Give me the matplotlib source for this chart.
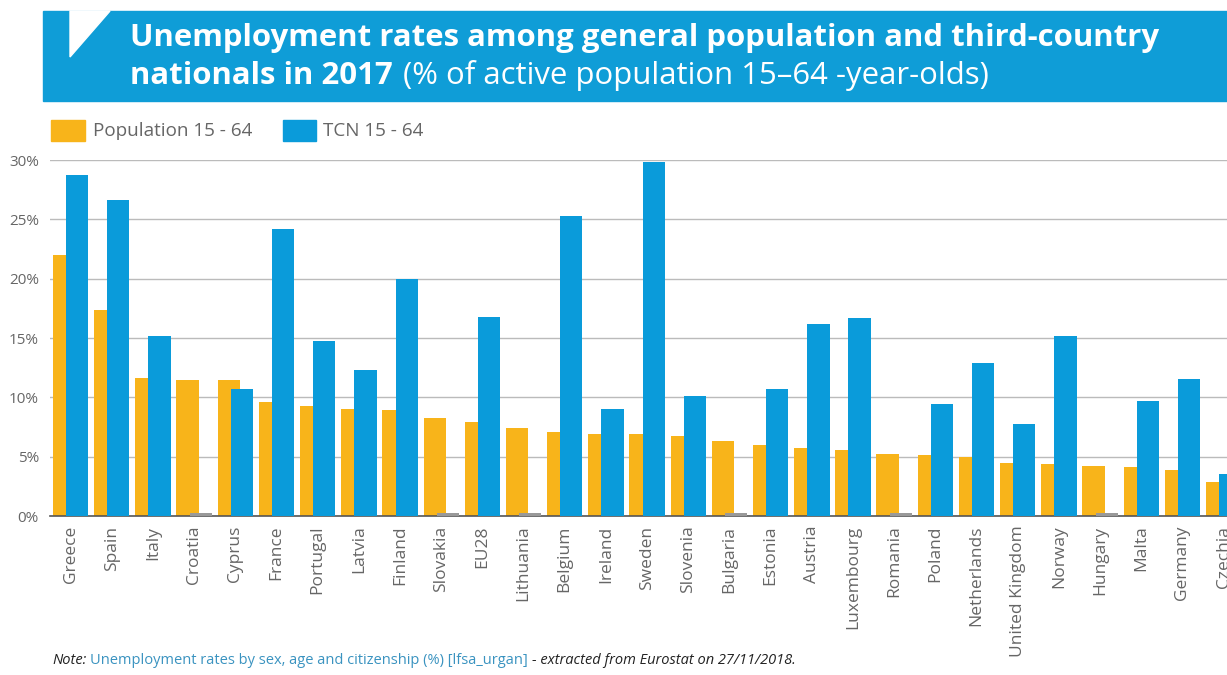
import numpy as np
import matplotlib
matplotlib.use("Agg")
import matplotlib.pyplot as plt
import matplotlib.patches as patches

countries = ["Greece", "Spain", "Italy", "Croatia", "Cyprus", "France", "Portugal",
             "Latvia", "Finland", "Slovakia", "EU28", "Lithuania", "Belgium", "Ireland",
             "Sweden", "Slovenia", "Bulgaria", "Estonia", "Austria", "Luxembourg",
             "Romania", "Poland", "Netherlands", "United Kingdom", "Norway", "Hungary",
             "Malta", "Germany", "Czechia"]

population = [22.0, 17.4, 11.6, 11.5, 11.5, 9.6, 9.3, 9.0, 8.9, 8.3, 7.9, 7.4, 7.1,
              6.9, 6.9, 6.7, 6.3, 6.0, 5.7, 5.6, 5.2, 5.1, 5.0, 4.5, 4.35, 4.25,
              4.15, 3.85, 2.9]

# None = not available (shown as a small grey stub)
tcn = [28.7, 26.6, 15.2, None, 10.7, 24.15, 14.75, 12.3, 20.0, None, 16.8, None,
       25.3, 9.0, 29.8, 10.1, None, 10.7, 16.2, 16.7, None, 9.4, 12.9, 7.75, 15.2,
       None, 9.7, 11.55, 3.55]

yticks = [0, 5, 10, 15, 20, 25, 30]

ORANGE = "#F8B41A"
BLUE = "#0A9BDA"
BANNER = "#0F9DD7"
GREY = "#666666"

W, H = 1227, 675
fig = plt.figure(figsize=(W / 100, H / 100), dpi=100)
plt.rcParams['font.family'] = ['Open Sans', 'DejaVu Sans']


def px(x, y):
    return x / W, 1 - y / H


# title banner
fig.patches.append(patches.Rectangle(px(43, 101), (W - 43) / W, 90 / H,
                                     transform=fig.transFigure, color=BANNER, zorder=0))
fig.patches.append(patches.Polygon([px(70, 11), px(110, 11), px(70, 57)],
                                   closed=True, transform=fig.transFigure,
                                   color="white", zorder=1))

fig.text(130 / W, 1 - 46 / H,
         "Unemployment rates among general population and third-country",
         color="white", fontsize=22.4, fontweight="bold", va="baseline")
t_bold = fig.text(130 / W, 1 - 84 / H, "nationals in 2017", color="white",
                  fontsize=22.4, fontweight="bold", va="baseline")
fig.canvas.draw()
r = fig.canvas.get_renderer()
bb = t_bold.get_window_extent(r)
fig.text(bb.x1 / W + 10 / W, 1 - 84 / H, "(% of active population 15–64 -year-olds)",
         color="white", fontsize=22.4, va="baseline")

# chart area
ax = fig.add_axes([50 / W, (H - 516) / H, (W - 50) / W, (516 - 160) / H])
x = np.arange(len(countries))
off = 0.16
wid = 0.54

ax.bar(x - off, population, width=wid, color=ORANGE, zorder=2)
tcn_vals = np.array([np.nan if v is None else v for v in tcn])
ax.bar(x + off, tcn_vals, width=wid, color=BLUE, zorder=3)
missing = [i for i, v in enumerate(tcn) if v is None]
ax.bar(x[missing] + off, [0.25] * len(missing), width=wid, color="#999999", zorder=3)

ax.set_xlim(-0.5, (W - 50) / 41.18 - 0.5)
ax.set_ylim(0, 30)
ax.set_yticks(yticks)
ax.set_yticklabels([f"{v}%" for v in yticks], color=GREY, fontsize=11)
ax.set_xticks(x)
ax.set_xticklabels(countries, rotation=90, color=GREY, fontsize=12.5)
ax.tick_params(length=0, pad=7)
ax.tick_params(axis="y", pad=8)
ax.yaxis.grid(True, color="#bbbbbb", linewidth=1, zorder=0)
ax.set_axisbelow(True)
for s in ["top", "right", "left"]:
    ax.spines[s].set_visible(False)
ax.spines["bottom"].set_color("#555555")
ax.spines["bottom"].set_linewidth(1.2)

# legend
fig.patches.append(patches.Rectangle(px(51, 141), 34 / W, 21 / H,
                                     transform=fig.transFigure, color=ORANGE))
fig.text(93 / W, 1 - 131 / H, "Population 15 - 64", color=GREY, fontsize=13.6, va="center")
fig.patches.append(patches.Rectangle(px(283, 141), 33 / W, 21 / H,
                                     transform=fig.transFigure, color=BLUE))
fig.text(323 / W, 1 - 131 / H, "TCN 15 - 64", color=GREY, fontsize=13.6, va="center")

# source note
y_note = 1 - 661 / H
n1 = fig.text(52 / W, y_note, "Note:", fontsize=10.5, style="italic", color="#222222", va="center")
fig.canvas.draw()
x1 = n1.get_window_extent(r).x1 + 4
n2 = fig.text(x1 / W, y_note, "Unemployment rates by sex, age and citizenship (%) [lfsa_urgan]",
              fontsize=10.5, color="#3a93c0", va="center")
fig.canvas.draw()
x2 = n2.get_window_extent(r).x1 + 4
fig.text(x2 / W, y_note, "- extracted from Eurostat on 27/11/2018.", fontsize=10.5,
         style="italic", color="#222222", va="center")

fig.savefig("out.png", dpi=100)
